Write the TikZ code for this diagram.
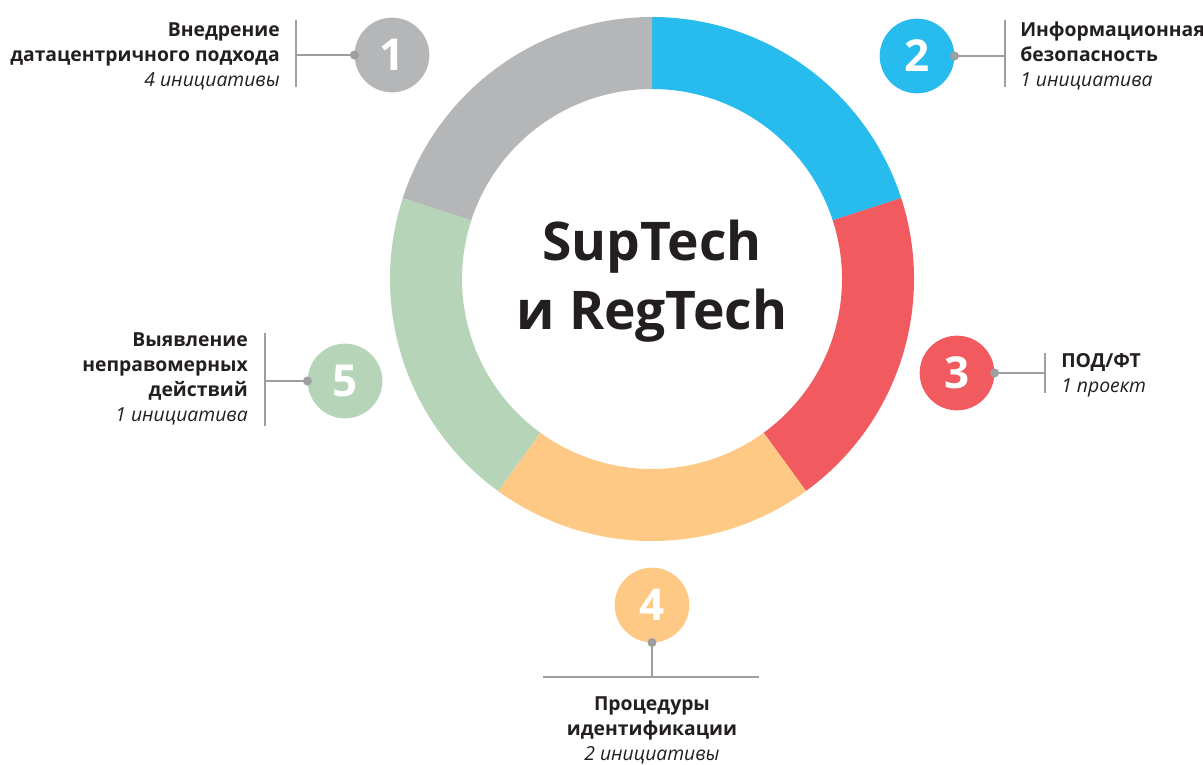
\documentclass[tikz,border=0pt]{standalone}
\usepackage{fontspec}
\setmainfont{Open Sans}
\definecolor{segGray}{HTML}{B5B6B8}
\definecolor{segBlue}{HTML}{27BBEE}
\definecolor{segRed}{HTML}{F15A5E}
\definecolor{segOrange}{HTML}{FDC985}
\definecolor{segGreen}{HTML}{B6D5B8}
\definecolor{lineGray}{HTML}{9D9EA0}
\definecolor{textDark}{HTML}{231F20}
\begin{document}
\begin{tikzpicture}[x=0.75pt, y=-0.75pt,
    numcirc/.style={circle, minimum size=56pt, inner sep=0pt, text=white,
      font=\fontsize{33}{33}\selectfont\bfseries},
    lbl/.style={text=textDark, inner sep=0pt, font=\fontsize{14.5}{18.7}\selectfont},
    conn/.style={lineGray, line width=1.7pt},
    dot/.style={fill=lineGray}]
  \useasboundingbox[fill=white] (0,0) rectangle (1203,764);

  % ring of five parts
  \begin{scope}[shift={(652,279)}]
    \foreach \a/\b/\col in {-90/-18/segBlue, -18/54/segRed, 54/126/segOrange,
        126/198/segGreen, 198/270/segGray}
      \fill[\col] (\a:262) arc[start angle=\a, end angle=\b, radius=262]
        -- (\b:190) arc[start angle=\b, end angle=\a, radius=190] -- cycle;
  \end{scope}

  % title
  \node[text=textDark, align=center, font=\fontsize{40}{52}\selectfont\bfseries]
    (title) at (652,281) {SupTech\\и RegTech};

  % numbered circles
  \node[numcirc, fill=segGray] (n1) at (392,55) {1};
  \node[numcirc, fill=segBlue] (n2) at (917,56) {2};
  \node[numcirc, fill=segRed] (n3) at (957,373) {3};
  \node[numcirc, fill=segOrange] (n4) at (652,605) {4};
  \node[numcirc, fill=segGreen] (n5) at (345,381) {5};

  % bars
  \coordinate (b1t) at (296,20);  \coordinate (b1b) at (296,87);
  \coordinate (b2t) at (1005,20); \coordinate (b2b) at (1005,87);
  \coordinate (b3t) at (1045,353); \coordinate (b3b) at (1045,393);
  \coordinate (b5t) at (265,333); \coordinate (b5b) at (265,426);
  \coordinate (b4l) at (543,677); \coordinate (b4r) at (759,677);
  \foreach \p/\q in {b1t/b1b, b2t/b2b, b3t/b3b, b5t/b5b, b4l/b4r}
    \draw[conn] (\p) -- (\q);

  % connectors
  \draw[conn] (n1.west) -- (n1.west -| b1t);
  \draw[conn] (n2.east) -- (n2.east -| b2t);
  \draw[conn] (n3.east) -- (n3.east -| b3t);
  \draw[conn] (n5.west) -- (n5.west -| b5t);
  \draw[conn] (n4.south) -- (n4.south |- b4l);
  \foreach \n/\s in {n1/west, n2/east, n3/east, n5/west, n4/south}
    \fill[dot] (\n.\s) circle (4.5);

  % labels
  \node[lbl, anchor=east, align=right] (t1) at (280,56)
    {\textbf{Внедрение}\\\textbf{датацентричного подхода}\\\textit{4 инициативы}};
  \node[lbl, anchor=west, align=left] (t2) at (1020,56)
    {\textbf{Информационная}\\\textbf{безопасность}\\\textit{1 инициатива}};
  \node[lbl, anchor=west, align=left] (t3) at (1061,375)
    {\textbf{ПОД/ФТ}\\\textit{1 проект}};
  \node[lbl, anchor=east, align=right] (t5) at (248,379)
    {\textbf{Выявление}\\\textbf{неправомерных}\\\textbf{действий}\\\textit{1 инициатива}};
  \node[lbl, align=center] (t4) at (652,730)
    {\textbf{Процедуры}\\\textbf{идентификации}\\\textit{2 инициативы}};
\end{tikzpicture}
\end{document}
